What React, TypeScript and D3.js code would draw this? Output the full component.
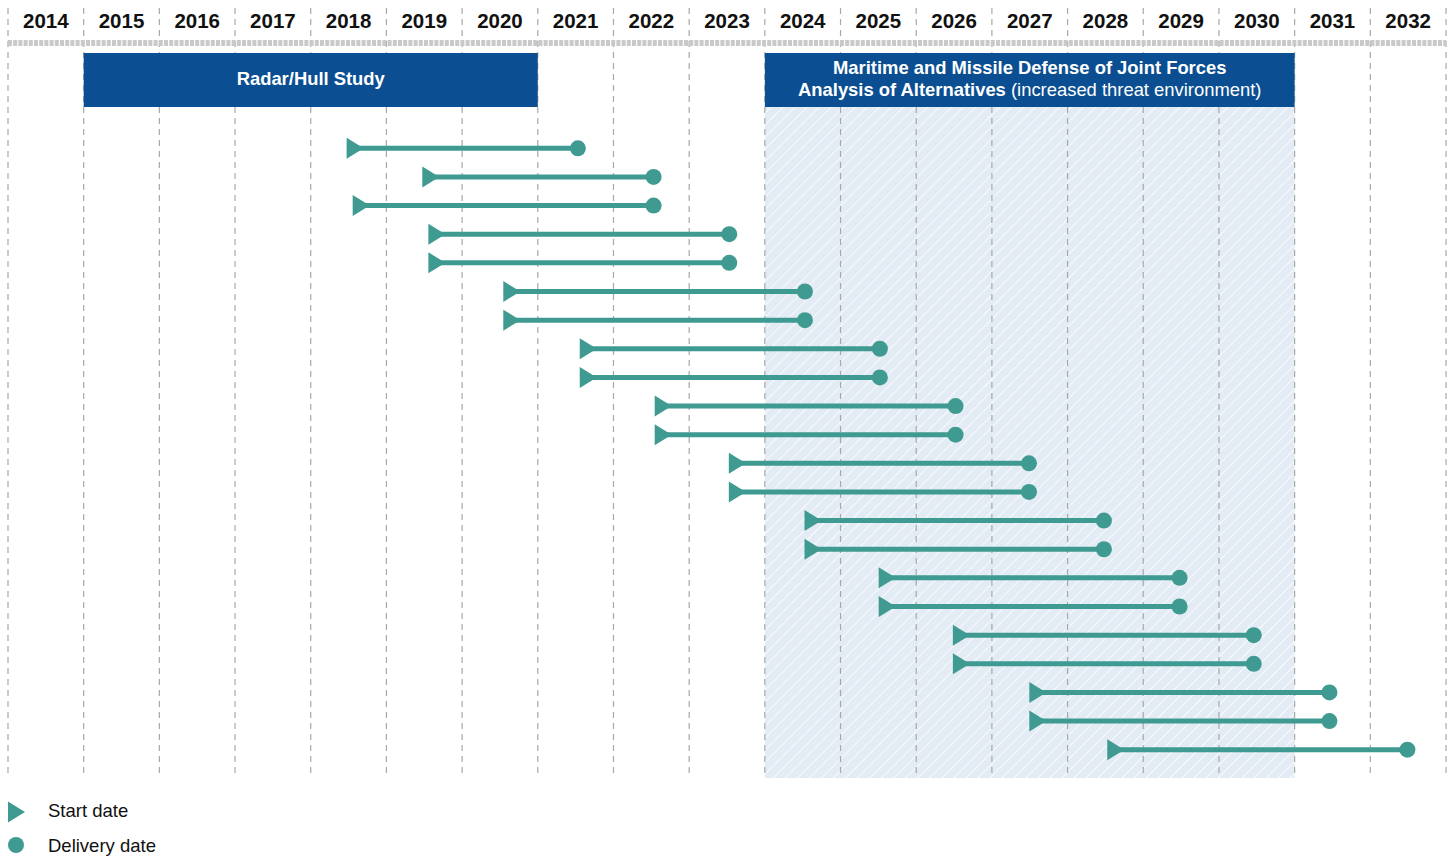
import React from "react";
import * as d3 from "d3";

const years = d3.range(2014, 2033);
const startDates = [2018.58, 2019.58, 2018.66, 2019.66, 2019.66, 2020.65, 2020.65, 2021.66, 2021.66, 2022.65, 2022.65, 2023.63, 2023.63, 2024.63, 2024.63, 2025.61, 2025.61, 2026.59, 2026.59, 2027.6, 2027.6, 2028.63];
const deliveryDates = [2021.53, 2022.53, 2022.53, 2023.53, 2023.53, 2024.53, 2024.53, 2025.52, 2025.52, 2026.52, 2026.52, 2027.49, 2027.49, 2028.48, 2028.48, 2029.48, 2029.48, 2030.46, 2030.46, 2031.46, 2031.46, 2032.49];
const phases = [
  { start: 2015, end: 2021, line1: "Radar/Hull Study", line2: "", line2extra: "", hatched: false },
  { start: 2024, end: 2031, line1: "Maritime and Missile Defense of Joint Forces", line2: "Analysis of Alternatives", line2extra: " (increased threat environment)", hatched: true },
];
const legendItems = ["Start date", "Delivery date"];

const W = 1453;
const H = 858;
const TEAL = "#3f9a91";
const BLUE = "#0b4f92";
const FONT = "'Liberation Sans', Arial, sans-serif";

export default function App() {
  const x = d3.scaleLinear().domain([2014, 2033]).range([8, 1446]);
  const rows = startDates.map((_, i) => i);
  const y = d3.scaleLinear().domain([0, 21]).range([148.3, 749.7]);
  const gridTop = 8;
  const gridBottom = 778;
  const boxTop = 53;
  const boxBottom = 107;
  const tri = (cx: number, cy: number) => `M${cx - 8},${cy - 10.5} L${cx + 9},${cy} L${cx - 8},${cy + 10.5} Z`;

  return (
    <svg width={W} height={H} style={{ position: "absolute", left: 0, top: 0, background: "#fff" }} fontFamily={FONT}>
      <defs>
        <pattern id="hatch" patternUnits="userSpaceOnUse" width="8.5" height="8.5" patternTransform="rotate(45)">
          <rect width="8.5" height="8.5" fill="#e3ebf4" />
          <line x1="0" y1="0" x2="0" y2="8.5" stroke="#ffffff" strokeWidth="1.6" />
        </pattern>
      </defs>
      <rect width={W} height={H} fill="#fff" />
      {phases.filter((p) => p.hatched).map((p, i) => (
        <rect key={"h" + i} x={x(p.start)} y={boxBottom} width={x(p.end) - x(p.start)} height={gridBottom - boxBottom} fill="url(#hatch)" />
      ))}
      {d3.range(2014, 2034).map((yr) => (
        <line key={"g" + yr} x1={x(yr)} x2={x(yr)} y1={gridTop} y2={gridBottom} stroke="#a8a8a8" strokeWidth={1.2} strokeDasharray="6 5" />
      ))}
      <line x1={8} x2={1446} y1={43} y2={43} stroke="#c9c9c9" strokeWidth={6} strokeDasharray="4 1.2" />
      {years.map((yr) => (
        <text key={"t" + yr} x={(x(yr) + x(yr + 1)) / 2} y={28} textAnchor="middle" fontSize={20.5} fontWeight="bold" fill="#111">
          {yr}
        </text>
      ))}
      {phases.map((p, i) => {
        const cx = (x(p.start) + x(p.end)) / 2;
        return (
          <g key={"p" + i}>
            <rect x={x(p.start)} y={boxTop} width={x(p.end) - x(p.start)} height={boxBottom - boxTop} fill={BLUE} />
            {p.line2 ? (
              <>
                <text x={cx} y={74} textAnchor="middle" fontSize={18.4} fontWeight="bold" fill="#fff">{p.line1}</text>
                <text x={cx} y={96} textAnchor="middle" fontSize={18.4} fill="#fff">
                  <tspan fontWeight="bold">{p.line2}</tspan>
                  <tspan>{p.line2extra}</tspan>
                </text>
              </>
            ) : (
              <text x={cx} y={85} textAnchor="middle" fontSize={18.4} fontWeight="bold" fill="#fff">{p.line1}</text>
            )}
          </g>
        );
      })}
      {rows.map((i) => {
        const xs = x(startDates[i]);
        const xe = x(deliveryDates[i]);
        const cy = y(i);
        return (
          <g key={"r" + i}>
            <line x1={xs} x2={xe} y1={cy} y2={cy} stroke={TEAL} strokeWidth={5} />
            <path d={tri(xs, cy)} fill={TEAL} />
            <circle cx={xe} cy={cy} r={8} fill={TEAL} />
          </g>
        );
      })}
      <path d={tri(16, 812)} fill={TEAL} />
      <circle cx={16} cy={845} r={8} fill={TEAL} />
      <text x={48} y={817} fontSize={18.5} fill="#111">{legendItems[0]}</text>
      <text x={48} y={852} fontSize={18.5} fill="#111">{legendItems[1]}</text>
    </svg>
  );
}
